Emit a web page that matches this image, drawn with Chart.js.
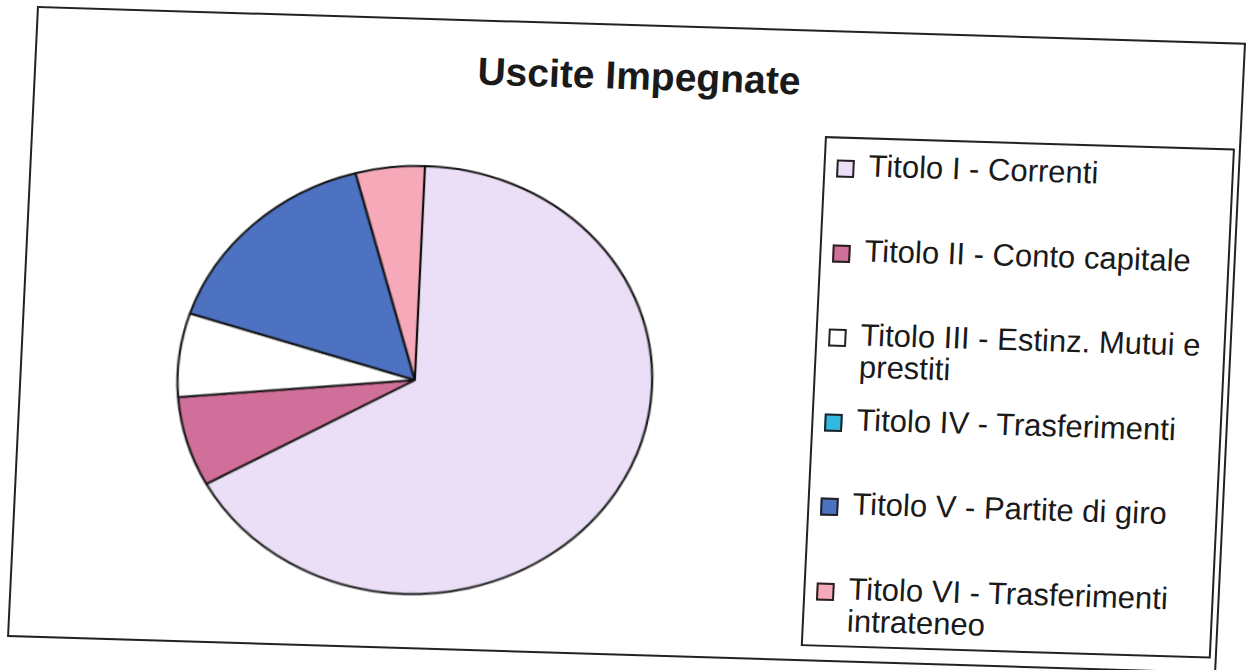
<!DOCTYPE html>
<html>
<head>
<meta charset="utf-8">
<title>Uscite Impegnate</title>
<script src="https://cdn.jsdelivr.net/npm/chart.js@4.4.1/dist/chart.umd.min.js"></script>
<style>
    html, body {
        margin: 0;
        padding: 0;
        background: #fff;
        width: 1247px;
        height: 670px;
        overflow: hidden;
        font-family: "Liberation Sans", Arial, sans-serif;
    }
    /* outer chart frame, skewed a little like the scanned page */
    #frame {
        position: absolute;
        left: 37px;
        top: 6px;
        width: 1209px;
        height: 631px;
        box-sizing: border-box;
        border: 2px solid #222;
        transform-origin: 0 0;
        transform: matrix(1, 0.0304, -0.0475, 1, 0, 0);
    }
    #title {
        position: absolute;
        left: 0;
        top: 28px;
        width: 100%;
        text-align: center;
        font-weight: bold;
        font-size: 39px;
        line-height: 44px;
        color: #1a1a1a;
    }
    #pie-wrap {
        position: absolute;
        left: 163px;
        top: 130px;
        width: 460px;
        height: 460px;
        transform: scaleX(1.108);
    }
    #legend {
        position: absolute;
        left: 791px;
        top: 104px;
        width: 410px;
        height: 510px;
        box-sizing: border-box;
        border: 2px solid #222;
    }
    .legend-item {
        position: absolute;
        left: 11px;
        width: 390px;
        display: flex;
        align-items: flex-start;
    }
    .legend-box {
        flex: none;
        width: 14px;
        height: 14px;
        margin-top: 10px;
        margin-right: 14px;
        border: 2px solid #222;
    }
    .legend-text {
        width: 365px;
        font-size: 31px;
        line-height: 32px;
        color: #1a1a1a;
    }
</style>
</head>
<body>
<div id="frame">
    <div id="title">Uscite Impegnate</div>
    <div id="pie-wrap"><canvas id="pie-chart"></canvas></div>
    <div id="legend"></div>
</div>
<script>
// Categories (Titoli di spesa)
const labels = [
    'Titolo I - Correnti',
    'Titolo II - Conto capitale',
    'Titolo III - Estinz. Mutui e prestiti',
    'Titolo IV - Trasferimenti',
    'Titolo V - Partite di giro',
    'Titolo VI - Trasferimenti intrateneo'
];

// Share of each slice (%)
const values = [66.4, 6.8, 6.3, 0, 15.8, 4.7];

// Slice colours
const colors = ['#EADFF6', '#D0709A', '#FFFFFF', '#33B8E0', '#4D72C2', '#F6A9B9'];

// Legend rows are spread evenly down the box
const legendTop = 11;
const legendStep = 84.6;

document.addEventListener('DOMContentLoaded', function() {
    const ctx = document.getElementById('pie-chart').getContext('2d');
    new Chart(ctx, {
        type: 'pie',
        data: {
            labels: labels,
            datasets: [{
                data: values,
                backgroundColor: colors,
                borderColor: '#111',
                borderWidth: 2,
                hoverOffset: 0
            }]
        },
        options: {
            responsive: true,
            maintainAspectRatio: false,
            animation: false,
            radius: 214,
            layout: { padding: 0 },
            plugins: {
                legend: { display: false },
                title: { display: false },
                tooltip: { enabled: false }
            }
        }
    });

    // Build the legend box by hand
    const legend = document.getElementById('legend');
    labels.forEach((label, i) => {
        const item = document.createElement('div');
        item.className = 'legend-item';
        item.style.top = (legendTop + i * legendStep) + 'px';

        const box = document.createElement('span');
        box.className = 'legend-box';
        box.style.background = colors[i];

        const text = document.createElement('span');
        text.className = 'legend-text';
        text.textContent = label;

        item.appendChild(box);
        item.appendChild(text);
        legend.appendChild(item);
    });
});
</script>
</body>
</html>
